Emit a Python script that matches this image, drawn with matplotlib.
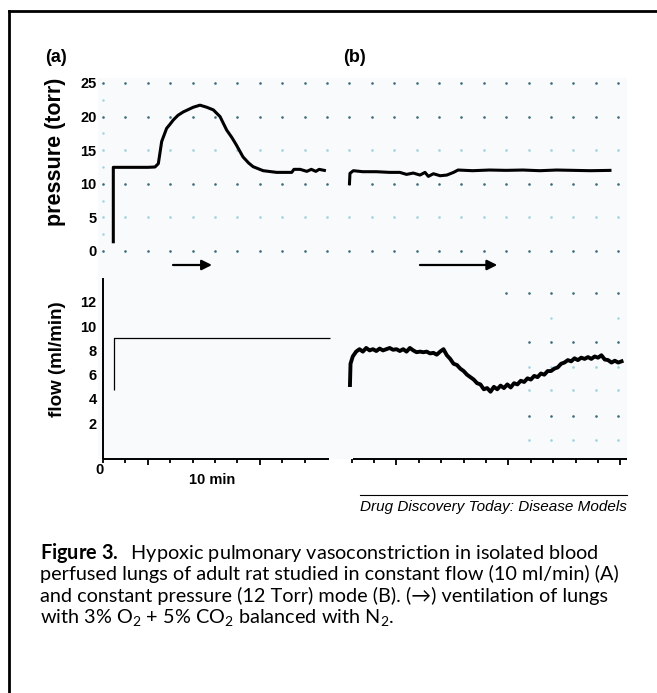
import matplotlib
matplotlib.use('Agg')
import matplotlib.pyplot as plt
from matplotlib.lines import Line2D

W, H, DPI = 657, 693, 100

# ---------------- data (time in min, pressure in torr, flow in ml/min) -------------
press_a_t = [0.92, 0.92, 2.0, 3.0, 4.0, 4.64, 4.94, 5.24, 5.68, 6.0, 6.28, 6.7, 7.17,
             8.07, 8.66, 9.25, 9.85, 10.45, 11.04, 11.5, 11.9, 12.5, 13.0, 13.4, 14.3,
             15.5, 16.85, 17.05, 17.6, 18.2, 18.6, 19.0, 19.3, 19.9]
press_a_v = [1.15, 12.45, 12.45, 12.45, 12.45, 12.5, 13.0, 16.3, 18.25, 18.9, 19.5, 20.2, 20.7,
             21.4, 21.7, 21.4, 21.0, 20.0, 18.0, 16.9, 15.8, 14.0, 13.1, 12.55, 11.95,
             11.7, 11.7, 12.15, 12.15, 11.85, 12.15, 11.85, 12.15, 11.95]

press_b_t = [22.0, 22.05, 22.35, 23.2, 24.4, 25.6, 26.5, 27.1, 27.7, 28.3, 28.75, 29.05,
             29.5, 30.1, 30.7, 31.3, 31.7, 33.0, 34.5, 36.0, 37.5, 39.0, 40.5, 42.0,
             43.5, 45.4]
press_b_v = [9.8, 11.55, 11.95, 11.8, 11.8, 11.7, 11.7, 11.4, 11.6, 11.3, 11.7, 11.1,
             11.5, 11.2, 11.3, 11.7, 12.05, 11.95, 12.05, 12.0, 12.05, 11.95, 12.05, 12.0,
             11.95, 12.0]

flow_a_t = [1.0, 1.0, 20.3]
flow_a_v = [4.74, 9.0, 9.0]

flow_b_t = [22.05, 22.1, 22.3, 22.6, 22.9, 23.2, 23.5, 23.8, 24.1, 24.4,
            24.7, 25.0, 25.3, 25.6, 25.9, 26.2, 26.5, 26.8, 27.1, 27.4,
            27.7, 28.0, 28.3, 28.6, 28.9, 29.2, 29.5, 29.8, 30.1, 30.4,
            30.7, 31.0, 31.3, 31.6, 31.9, 32.2, 32.5, 32.8, 33.1, 33.4,
            33.7, 34.0, 34.3, 34.6, 34.9, 35.2, 35.5, 35.8, 36.1, 36.4,
            36.7, 37.0, 37.3, 37.6, 37.9, 38.2, 38.5, 38.8, 39.1, 39.4,
            39.7, 40.0, 40.3, 40.6, 40.9, 41.2, 41.5, 41.8, 42.1, 42.4,
            42.7, 43.0, 43.3, 43.6, 43.9, 44.2, 44.5, 44.8, 45.1, 45.4,
            45.7, 46.0, 46.3]
flow_b_v = [5.15, 6.9, 7.5, 7.9, 8.1, 7.9, 8.2, 8.0, 8.1, 7.95,
            8.15, 8.0, 8.1, 8.2, 8.05, 8.1, 7.95, 8.1, 7.9, 8.2,
            8.0, 7.85, 7.9, 7.85, 7.9, 7.75, 7.8, 7.65, 7.9, 8.1,
            7.6, 7.3, 6.9, 6.8, 6.5, 6.3, 6.0, 5.8, 5.6, 5.3,
            5.2, 4.8, 4.9, 4.6, 5.0, 4.8, 5.1, 4.9, 5.2, 4.95,
            5.3, 5.2, 5.5, 5.4, 5.7, 5.6, 5.9, 5.8, 6.1, 6.0,
            6.3, 6.3, 6.5, 6.6, 6.9, 7.0, 7.2, 7.1, 7.35, 7.2,
            7.4, 7.3, 7.45, 7.3, 7.5, 7.4, 7.6, 7.25, 7.2, 7.0,
            7.15, 7.0, 7.1]

press_ticks = [0, 5, 10, 15, 20, 25]
flow_ticks = [2, 4, 6, 8, 10, 12]
time_minor_ticks = [0, 2, 6, 8, 10, 12, 16, 18,
                    22.2, 24.2, 28.2, 30.2, 32.2, 34.2, 38.2, 40.2, 42.2, 44.2]
time_major_ticks = [4, 14, 26.2, 36.2, 46.2]
axis_a_range = [0, 20.2]
axis_b_range = [22.3, 46.8]
arrow_start = [6.25, 28.3]
arrow_end = [9.73, 35.2]

# grid dots of the chart paper
grid_cols = [0, 2, 4, 6, 8, 10, 12, 14, 16, 18, 20, 22, 24, 26, 28, 30, 32, 34,
             36, 38, 40, 42, 44, 46]
grid_rows_dark = [0, 10, 20, 25]
grid_rows_light = [5, 15]
grid_left_half = [2.5, 7.5, 12.5, 17.5, 22.5]
flow_grid_cols = [38, 40, 42, 44, 46]
flow_grid_top_cols = [36, 38, 40, 42, 44, 46]
flow_rows_dark = [2.6, 8.7]
flow_rows_light = [0.6, 4.7, 6.6]

# ---------------- styling -----------------------------------------------------------
plt.rcParams['mathtext.fontset'] = 'custom'
plt.rcParams['mathtext.rm'] = 'Lato'
plt.rcParams['mathtext.bf'] = 'Lato:bold'
plt.rcParams['mathtext.it'] = 'Lato:italic'

SANS = 'Liberation Sans'
BG = '#f8fafc'
DOT_DARK = '#3a6a78'
DOT_LIGHT = '#9fd2de'

fig = plt.figure(figsize=(W / DPI, H / DPI), dpi=DPI)


def fx(x):
    return x / W


def fy(y):
    return 1 - y / H


ORIGIN, PPM = 103, 11.2          # pixel of t=0, pixels per minute
P0, PPU = 251, 6.72              # pressure axis
F0, FPU = 447.6, 12.15           # flow axis


def tm(px):
    return (px - ORIGIN) / PPM

# frame lines
fig.add_artist(Line2D([fx(9), fx(9)], [0, fy(11)], color='black', lw=2.0))
fig.add_artist(Line2D([fx(9), 1], [fy(11), fy(11)], color='black', lw=2.0))

# ---------------- pressure panel ---------------------------------------------------------
ax1 = fig.add_axes([fx(98), fy(282), (627 - 98) / W, (282 - 78) / H])
ax1.set_facecolor(BG)
ax1.set_xlim(tm(98), tm(627))
ax1.set_ylim((P0 - 282) / PPU, (P0 - 78) / PPU)
for s in ax1.spines.values():
    s.set_visible(False)
ax1.set_xticks([])
ax1.set_yticks(press_ticks)
ax1.set_yticklabels([str(v) for v in press_ticks], fontsize=10.5,
                    fontweight='bold', family=SANS)
ax1.tick_params(axis='y', length=0, pad=1)

for r in grid_rows_dark:
    ax1.scatter(grid_cols, [r] * len(grid_cols), s=3.5, color=DOT_DARK, lw=0, zorder=1)
for r in grid_rows_light:
    ax1.scatter(grid_cols, [r] * len(grid_cols), s=3.5, color=DOT_LIGHT, lw=0, zorder=1)
ax1.scatter([0] * len(grid_left_half), grid_left_half, s=3, color=DOT_LIGHT, lw=0)

ax1.plot(press_a_t, press_a_v, color='black', lw=2.2, solid_joinstyle='round',
         solid_capstyle='butt', zorder=3)
ax1.plot(press_b_t, press_b_v, color='black', lw=2.2, solid_joinstyle='round',
         solid_capstyle='butt', zorder=3)

arrow_y = (P0 - 265) / PPU
for a, b in zip(arrow_start, arrow_end):
    ax1.annotate('', xy=(b, arrow_y), xytext=(a, arrow_y),
                 arrowprops=dict(arrowstyle='-|>', color='black', lw=1.6,
                                 mutation_scale=15, shrinkA=0, shrinkB=0))

# ---------------- flow panel -------------------------------------------------------------
ax2 = fig.add_axes([fx(98), fy(459), (627 - 98) / W, (459 - 280) / H])
ax2.set_facecolor(BG)
ax2.set_xlim(tm(98), tm(627))
ylo = (F0 - 459) / FPU
yhi = (F0 - 280) / FPU
ax2.set_ylim(ylo, yhi)
for s in ax2.spines.values():
    s.set_visible(False)
ax2.set_yticks(flow_ticks)
ax2.set_yticklabels([str(v) for v in flow_ticks], fontsize=10.5,
                    fontweight='bold', family=SANS)
ax2.tick_params(axis='y', length=0, pad=1)
ax2.set_xticks(time_major_ticks)
ax2.set_xticks(time_minor_ticks, minor=True)
ax2.set_xticklabels([''] * len(time_major_ticks))
ax2.tick_params(axis='x', which='major', direction='out', length=4.5, width=1.3, color='black')
ax2.tick_params(axis='x', which='minor', direction='out', length=3, width=1.3, color='black')

ax2.plot(axis_a_range, [ylo, ylo], color='black', lw=1.4, clip_on=False, solid_capstyle='butt')
ax2.plot(axis_b_range, [ylo, ylo], color='black', lw=1.4, clip_on=False, solid_capstyle='butt')
ax2.plot([0, 0], [ylo, (F0 - 278) / FPU], color='black', lw=1.4, clip_on=False,
         solid_capstyle='butt')

ax2.scatter(flow_grid_top_cols, [12.7] * len(flow_grid_top_cols), s=3.5, color=DOT_DARK, lw=0)
ax2.scatter([40, 46], [10.7, 10.7], s=3, color=DOT_LIGHT, lw=0)
for r in flow_rows_dark:
    ax2.scatter(flow_grid_cols, [r] * len(flow_grid_cols), s=3.5, color=DOT_DARK, lw=0)
for r in flow_rows_light:
    ax2.scatter(flow_grid_cols, [r] * len(flow_grid_cols), s=3.5, color=DOT_LIGHT, lw=0)

ax2.plot(flow_a_t, flow_a_v, color='black', lw=0.9, solid_capstyle='butt')
ax2.plot(flow_b_t, flow_b_v, color='black', lw=2.8, solid_joinstyle='round', zorder=3)

# ---------------- text --------------------------------------------------------------------
fig.text(fx(56), fy(58), '(a)', fontsize=13, fontweight='bold', family=SANS,
         ha='center', va='center')
fig.text(fx(355), fy(57), '(b)', fontsize=13, fontweight='bold', family=SANS,
         ha='center', va='center')
fig.text(fx(55), fy(152), 'pressure (torr)', fontsize=15.5, fontweight='bold', family=SANS,
         rotation=90, ha='center', va='center')
fig.text(fx(57), fy(359), 'flow (ml/min)', fontsize=13.5, fontweight='bold', family=SANS,
         rotation=90, ha='center', va='center')
fig.text(fx(100), fy(470), '0', fontsize=10.5, fontweight='bold', family=SANS,
         ha='center', va='center')
fig.text(fx(212), fy(480), '10 min', fontsize=10.5, fontweight='bold', family=SANS,
         ha='center', va='center')

fig.add_artist(Line2D([fx(360), fx(627)], [fy(495), fy(495)], color='black', lw=0.8))
fig.text(fx(627), fy(507), 'Drug Discovery Today: Disease Models', fontsize=11,
         style='italic', family=SANS, ha='right', va='center')

CAP = ['Lato', 'DejaVu Sans']
cap_size = 14.3
fig.text(fx(40), fy(553), r'$\mathbf{Figure\ 3.}$  Hypoxic pulmonary vasoconstriction in isolated blood',
         fontsize=cap_size, family=CAP, ha='left', va='center')
fig.text(fx(40), fy(574), 'perfused lungs of adult rat studied in constant flow (10 ml/min) (A)',
         fontsize=cap_size, family=CAP, ha='left', va='center')
fig.text(fx(40), fy(596), 'and constant pressure (12 Torr) mode (B). (\u2192) ventilation of lungs',
         fontsize=cap_size, family=CAP, ha='left', va='center')
fig.text(fx(40), fy(617), r'with 3% O$_2$ + 5% CO$_2$ balanced with N$_2$.',
         fontsize=cap_size, family=CAP, ha='left', va='center')

fig.savefig('out.png', dpi=DPI)
